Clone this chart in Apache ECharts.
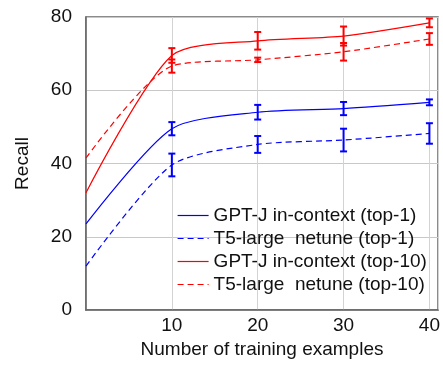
<!DOCTYPE html>
<html>
<head>
<meta charset="utf-8">
<script src="https://cdn.jsdelivr.net/npm/echarts@6/dist/echarts.min.js"></script>
<style>
  html, body { margin: 0; padding: 0; background: #fff; }
  #chart { width: 443px; height: 365px; }
</style>
</head>
<body>
<div id="chart"></div>
<script>
var xs = [0, 10, 20, 30, 40];
var errXs = [10, 20, 30, 40];

var names = [
    'GPT-J in-context (top-1)',
    'T5-large  netune (top-1)',
    'GPT-J in-context (top-10)',
    'T5-large  netune (top-10)'
];

var gptTop1 = [23.5, 49.5, 54, 55, 56.7];
var t5Top1 = [12, 39.6, 45.2, 46.4, 48.2];
var gptTop10 = [32, 69.5, 73.5, 74.8, 78.4];
var t5Top10 = [41.5, 66.6, 68.3, 70.5, 74];

var gptTop1Err = [1.8, 2, 1.8, 0.8];
var t5Top1Err = [3.1, 2.3, 3.1, 2.8];
var gptTop10Err = [2, 2.4, 2.6, 1.2];
var t5Top10Err = [1.8, 0.6, 2.4, 1.6];

var blue = '#0000ff';
var red = '#ff0000';

function pairs(vals) {
    return xs.map(function(x, i) { return [x, vals[i]]; });
}

function errData(vals, errs) {
    return errXs.map(function(x, i) {
        var v = vals[xs.indexOf(x)];
        return [x, v - errs[i], v + errs[i]];
    });
}

function lineSeries(name, vals, color, dashed) {
    return {
        name: name,
        type: 'line',
        data: pairs(vals),
        smooth: 0.25,
        symbol: 'none',
        lineStyle: { color: color, width: 1.2, type: dashed ? [6, 4] : 'solid' },
        itemStyle: { color: color },
        z: 3
    };
}

function errSeries(vals, errs, color) {
    return {
        type: 'custom',
        data: errData(vals, errs),
        z: 4,
        renderItem: function(params, api) {
            var x = api.value(0);
            var lo = api.coord([x, api.value(1)]);
            var hi = api.coord([x, api.value(2)]);
            var w = 3.5;
            var style = { stroke: color, lineWidth: 2, fill: null };
            return {
                type: 'group',
                children: [
                    { type: 'line', shape: { x1: lo[0], y1: lo[1], x2: hi[0], y2: hi[1] }, style: style },
                    { type: 'line', shape: { x1: lo[0] - w, y1: lo[1], x2: lo[0] + w, y2: lo[1] }, style: style },
                    { type: 'line', shape: { x1: hi[0] - w, y1: hi[1], x2: hi[0] + w, y2: hi[1] }, style: style }
                ]
            };
        }
    };
}

var chart = echarts.init(document.getElementById('chart'));

chart.setOption({
    backgroundColor: '#fff',
    animation: false,
    textStyle: { fontFamily: 'Liberation Sans, Arial, sans-serif' },
    grid: {
        left: 86, top: 17, right: 5, bottom: 55,
        show: true,
        borderColor: '#666',
        borderWidth: 1.5
    },
    legend: {
        orient: 'vertical',
        left: 172,
        top: 201,
        itemWidth: 31,
        itemHeight: 14,
        itemGap: 4,
        data: names,
        itemStyle: { opacity: 0, borderWidth: 0 },
        lineStyle: { width: 1.2 },
        textStyle: { fontSize: 19, color: '#111' }
    },
    xAxis: {
        type: 'value',
        min: 0,
        max: 41,
        interval: 10,
        name: 'Number of training examples',
        nameLocation: 'middle',
        nameGap: 30,
        nameTextStyle: { fontSize: 19, color: '#111' },
        axisLine: { show: true, lineStyle: { color: '#666', width: 1.5 } },
        axisTick: { show: false },
        axisLabel: {
            fontSize: 19,
            color: '#111',
            margin: 6,
            formatter: function(v) { return (v > 0 && v % 10 === 0) ? v : ''; }
        },
        splitLine: { show: true, lineStyle: { color: '#d3d3d3', width: 1 } }
    },
    yAxis: {
        type: 'value',
        min: 0,
        max: 80,
        interval: 20,
        name: 'Recall',
        nameLocation: 'middle',
        nameGap: 54,
        nameTextStyle: { fontSize: 19, color: '#111' },
        axisLine: { show: true, lineStyle: { color: '#666', width: 1.5 } },
        axisTick: { show: false },
        axisLabel: { fontSize: 19, color: '#111', margin: 14 },
        splitLine: { show: true, lineStyle: { color: '#c8c8c8', width: 1 } }
    },
    series: [
        lineSeries(names[0], gptTop1, blue, false),
        lineSeries(names[1], t5Top1, blue, true),
        lineSeries(names[2], gptTop10, red, false),
        lineSeries(names[3], t5Top10, red, true),
        errSeries(gptTop1, gptTop1Err, blue),
        errSeries(t5Top1, t5Top1Err, blue),
        errSeries(gptTop10, gptTop10Err, red),
        errSeries(t5Top10, t5Top10Err, red)
    ]
});
</script>
</body>
</html>
